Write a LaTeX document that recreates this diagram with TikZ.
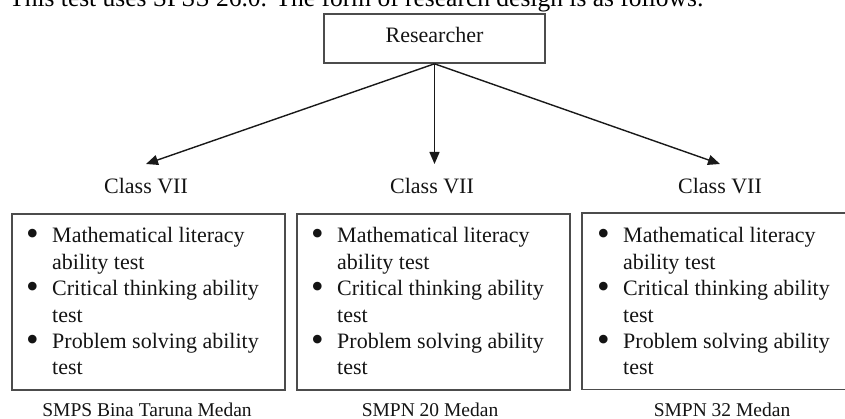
\documentclass[tikz,border=0pt]{standalone}
\usepackage{fontspec}
\setmainfont{Liberation Serif}
\usetikzlibrary{arrows.meta,calc}
\tikzset{
  frameline/.style={draw=black!70, line width=1.6pt},
  frame/.style={frameline, rectangle, inner sep=0pt, anchor=north west},
  classlbl/.style={font=\fontsize{22}{26.4}\selectfont, text=black!92, anchor=north, text height=15pt, inner ysep=14pt, inner xsep=0pt},
  schoollbl/.style={font=\fontsize{19.5}{23}\selectfont, text=black!92, anchor=base, inner sep=0pt},
  listtext/.style={font=\fontsize{22}{26.4}\selectfont, text=black!92, anchor=base west, inner sep=0pt},
  arr/.style={draw=black!90, line width=1.4pt, -{Triangle[length=12pt,width=10pt]}},
  toptext/.style={font=\fontsize{25.5}{30}\selectfont, text=black, anchor=base west, inner sep=0pt}
}
\newcommand{\bigbul}{\raisebox{-2.6pt}{\fontsize{36}{26.4}\selectfont\textbullet}}
\newcommand{\testlist}{%
  \begin{tabular}[t]{@{}p{26pt}@{}l@{}}
  \bigbul & Mathematical literacy\\
   & ability test\\
  \bigbul & Critical thinking ability\\
   & test\\
  \bigbul & Problem solving ability\\
   & test
  \end{tabular}}
\begin{document}
\begin{tikzpicture}[x=1pt,y=-1pt]
\useasboundingbox (0,0) rectangle (845,419);
\clip (0,0) rectangle (845,419);
\node[toptext] (top) at (9,7) {This test uses SPSS 26.0. The form of research design is as follows:};
\node[frameline, minimum width=221pt, minimum height=49pt, inner sep=0pt,
      font=\fontsize{22}{26.4}\selectfont, text=black!92, text height=15pt, text depth=6pt] (r) at (434.5,38.5) {Researcher};
\node[classlbl] (c1) at (146,164) {Class VII};
\node[classlbl] (c2) at (432,164) {Class VII};
\node[classlbl] (c3) at (720,164) {Class VII};
\draw[arr] (r.south) -- (c1.north);
\draw[arr] (r.south) -- (r.south |- c2.north);
\draw[arr] (r.south) -- (c3.north);
\node[frame, minimum width=273pt, minimum height=176pt] (b1) at (11,213) {};
\node[frame, minimum width=273pt, minimum height=176pt] (b2) at (296,213) {};
\node[rectangle, inner sep=0pt, anchor=north west, minimum width=280pt, minimum height=176pt] (b3) at (582,213) {};
\draw[frameline] (b3.north east) -- (b3.north west) -- (b3.south west) -- (b3.south east);
\node[listtext] (t1) at ($(b1.north west)+(15,30)$) {\testlist};
\node[listtext] (t2) at ($(b2.north west)+(15,30)$) {\testlist};
\node[listtext] (t3) at ($(b3.north west)+(15,30)$) {\testlist};
\node[schoollbl] (s1) at (147,416) {SMPS Bina Taruna Medan};
\node[schoollbl] (s2) at (430,416) {SMPN 20 Medan};
\node[schoollbl] (s3) at (722,416) {SMPN 32 Medan};
\end{tikzpicture}
\end{document}
